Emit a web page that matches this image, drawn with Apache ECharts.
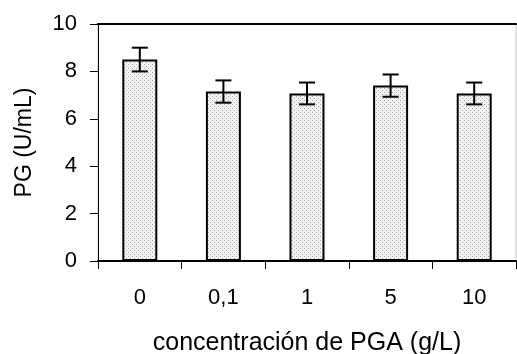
<!DOCTYPE html>
<html>
<head>
<meta charset="utf-8">
<script src="https://cdn.jsdelivr.net/npm/echarts@6/dist/echarts.min.js"></script>
<style>
html,body{margin:0;padding:0;background:#fff;}
#c{width:517px;height:354px;}
</style>
</head>
<body>
<div id="c"></div>
<script>
var categories = ['0', '0,1', '1', '5', '10'];
var values = [8.5, 7.15, 7.07, 7.4, 7.07];
var errors = [0.5, 0.47, 0.46, 0.47, 0.46];
var yTicks = [0, 2, 4, 6, 8, 10];

var pc = document.createElement('canvas');
pc.width = 4; pc.height = 4;
var ctx = pc.getContext('2d');
ctx.fillStyle = '#f2f2f2'; ctx.fillRect(0, 0, 4, 4);
ctx.fillStyle = '#a8a8a8';
ctx.fillRect(0, 0, 1, 1); ctx.fillRect(2, 2, 1, 1);

var FONT = 'Liberation Sans';

var chart = echarts.init(document.getElementById('c'), null, {renderer: 'canvas'});
var errData = values.map(function (v, i) { return [i, v - errors[i], v + errors[i]]; });

chart.setOption({
  animation: false,
  grid: {left: 98, top: 24, right: 1, bottom: 93, outerBoundsMode: 'none', containLabel: false,
         show: true, borderColor: '#c8c8c8', borderWidth: 1, backgroundColor: 'transparent'},
  xAxis: [{
    type: 'category', data: categories, position: 'bottom',
    axisLine: {lineStyle: {color: '#000', width: 2}},
    axisTick: {show: true, length: 8, lineStyle: {color: '#000', width: 1}},
    axisLabel: {color: '#000', fontFamily: FONT, fontSize: 22, margin: 26},
    name: 'concentración de PGA (g/L)', nameLocation: 'middle', nameGap: 70,
    nameTextStyle: {color: '#000', fontFamily: FONT, fontSize: 25}
  }, {
    type: 'category', data: categories, position: 'top',
    axisLine: {lineStyle: {color: '#000', width: 2}},
    axisTick: {show: false}, axisLabel: {show: false}
  }],
  yAxis: {
    type: 'value', min: 0, max: 10, interval: 2,
    axisLine: {show: true, lineStyle: {color: '#000', width: 1}},
    axisTick: {show: true, length: 8, lineStyle: {color: '#000', width: 1}},
    splitLine: {show: false},
    axisLabel: {color: '#000', fontFamily: FONT, fontSize: 22, margin: 21},
    name: 'PG (U/mL)', nameLocation: 'middle', nameGap: 62,
    nameTextStyle: {color: '#000', fontFamily: FONT, fontSize: 23}
  },
  series: [{
    type: 'bar', data: values, barWidth: 35,
    itemStyle: {color: {image: pc, repeat: 'repeat'}, borderColor: '#000', borderWidth: 2}
  }, {
    type: 'custom', data: errData, z: 10,
    renderItem: function (params, api) {
      var x = api.value(0);
      var lo = api.coord([x, api.value(1)]);
      var hi = api.coord([x, api.value(2)]);
      var hw = 8;
      var st = {stroke: '#000', lineWidth: 2};
      return {type: 'group', children: [
        {type: 'line', shape: {x1: lo[0], y1: lo[1], x2: hi[0], y2: hi[1]}, style: st},
        {type: 'line', shape: {x1: lo[0] - hw, y1: lo[1], x2: lo[0] + hw, y2: lo[1]}, style: st},
        {type: 'line', shape: {x1: hi[0] - hw, y1: hi[1], x2: hi[0] + hw, y2: hi[1]}, style: st}
      ]};
    }
  }]
});
</script>
</body>
</html>
